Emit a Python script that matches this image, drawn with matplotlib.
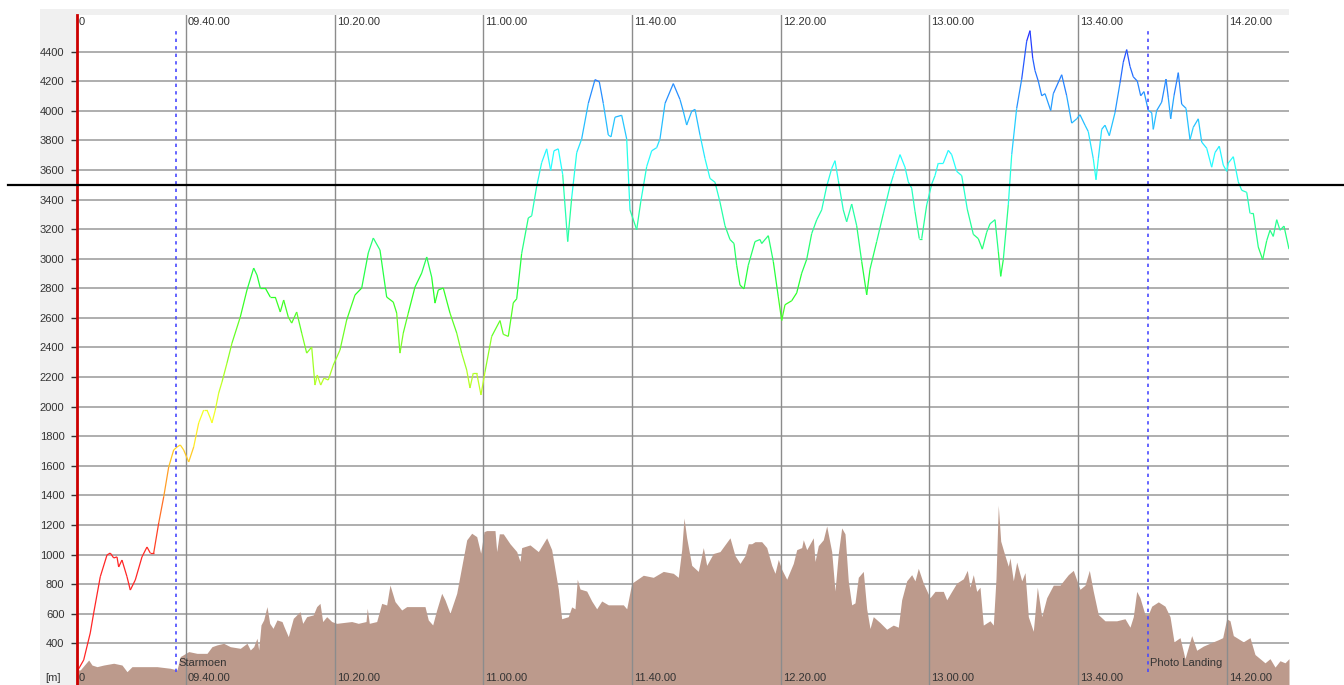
import numpy as np
import matplotlib
matplotlib.use("Agg")
import matplotlib.pyplot as plt
import matplotlib.transforms as mtransforms
from matplotlib.collections import LineCollection
from matplotlib.colors import hsv_to_rgb
from matplotlib.patches import Rectangle
from matplotlib.lines import Line2D

plt.rcParams['font.family'] = ['Liberation Sans', 'DejaVu Sans']

# times are minutes after 09:00, heights in metres
alt_t = [10.68, 12.48, 14.25, 15.17, 16.94, 18.75, 19.63, 20.55, 21.44, 21.89,
         22.78, 24.13, 25.02, 26.36, 28.16, 29.51, 30.40, 31.31, 32.66, 34.00,
         35.35, 36.69, 37.58, 38.47, 39.38, 40.73, 42.07, 43.42, 44.76, 45.65,
         46.54, 46.99, 47.88, 48.80, 49.69, 51.03, 52.38, 54.61, 56.41, 58.21,
         59.10, 59.99, 61.33, 62.68, 64.02, 65.37, 66.28,
         67.52, 68.44, 69.78, 71.13, 72.47, 73.82, 74.70, 75.32, 76.24, 77.13,
         78.28, 79.63, 81.43, 83.23, 85.47, 87.27, 89.04, 90.39, 92.19, 93.99,
         95.77, 96.68, 97.57, 98.46, 99.81, 101.61, 103.41, 104.76, 106.10, 106.99,
         107.88, 109.22, 111.02, 112.83, 114.17, 115.52, 116.40, 117.29, 118.21, 119.36,
         120.44, 122.24, 124.48, 125.36, 126.71, 128.05, 128.97, 130.31, 132.09, 133.00,
         134.35, 135.69, 137.04, 138.11, 139.00, 140.16, 141.34, 142.69, 143.76, 145.11,
         146.45, 148.23, 150.03, 151.19, 152.27, 153.61, 154.34, 155.41, 157.22, 158.56,
         159.45, 160.18, 161.25, 162.33, 163.94, 165.29, 166.63, 167.52, 168.87, 171.10,
         172.90,
         173.79, 174.70, 176.05, 176.94, 178.28, 179.63, 180.97, 182.32, 183.66, 185.01,
         186.35, 187.43, 188.15, 189.04, 190.12, 191.27, 193.08, 194.42, 194.88, 196.66,
         198.00, 199.35, 200.26, 201.15, 202.95, 204.30, 205.64, 206.99, 208.33, 209.68,
         211.02, 212.37, 213.71, 214.60, 215.49, 216.83, 217.74, 219.09, 220.44, 221.78,
         223.13, 224.02, 225.82, 227.59, 229.40,
         230.28, 232.09, 233.43, 234.32, 235.23, 236.12, 237.28, 237.93, 239.27, 240.62,
         241.50, 242.39, 243.74, 245.08, 245.99, 247.34, 248.69, 250.19, 251.81, 253.15,
         254.23, 255.41, 256.30, 257.65, 258.53, 259.18, 259.88, 261.22, 262.14, 263.48,
         264.83, 266.17, 267.06, 267.79, 268.41, 269.29, 270.21, 271.10, 272.63, 273.33,
         275.59, 276.93, 278.28, 279.62,
         280.51, 281.86, 282.74, 284.09, 284.82, 285.44, 286.35, 287.24, 288.40, 289.93,
         291.27, 292.16, 293.07, 293.96, 294.85, 295.93, 296.84, 297.73, 298.89, 299.80,
         300.23, 301.15, 302.49, 303.65, 304.27, 304.91, 305.80, 306.96, 307.87, 309.03,
         310.11, 310.99, 312.34, 313.25, 314.60, 315.94, 316.83, 317.99, 319.06, 319.98,
         320.41, 321.76, 323.10, 324.02, 325.36, 326.25, 327.14, 328.48, 329.66, 330.74,
         331.63, 332.51, 333.43, 334.32, 335.39, 336.74]
alt_m = [208, 287, 470, 605, 850, 997, 1010, 977, 984, 916,
         963, 850, 760, 828, 984, 1051, 1010, 1010, 1213, 1389,
         1592, 1707, 1727, 1741, 1707, 1626, 1727, 1890, 1977, 1977,
         1923, 1890, 1977, 2092, 2167, 2295, 2430, 2606, 2789, 2937,
         2890, 2802, 2802, 2741, 2741, 2640, 2721,
         2606, 2565, 2640, 2498, 2362, 2403, 2146, 2214, 2146, 2193,
         2180, 2281, 2383, 2586, 2755, 2802, 3039, 3140, 3059, 2741,
         2707, 2633, 2362, 2498, 2633, 2809, 2903, 3012, 2876, 2700,
         2789, 2802, 2633, 2498, 2362, 2248, 2126, 2227, 2227, 2079,
         2235, 2475, 2582, 2489, 2475, 2702, 2729, 3036, 3276, 3290,
         3490, 3650, 3743, 3597, 3730, 3743, 3570, 3116, 3410, 3717,
         3810, 4050, 4211, 4197, 4050, 3837, 3824, 3957, 3970, 3810,
         3330, 3276, 3196, 3383, 3623, 3730, 3751, 3810, 4050, 4184,
         4077,
         3997, 3904, 3997, 4010, 3837, 3677, 3543, 3517, 3383, 3223,
         3130, 3103, 2956, 2822, 2796, 2956, 3116, 3130, 3103, 3156,
         2982, 2742, 2582, 2689, 2716, 2769, 2902, 2996, 3170, 3263,
         3330, 3490, 3610, 3663, 3530, 3330, 3250, 3370, 3223, 2982,
         2756, 2929, 3116, 3303, 3490,
         3562, 3704, 3619, 3520, 3477, 3321, 3136, 3136, 3363, 3505,
         3562, 3647, 3647, 3733, 3704, 3591, 3562, 3335, 3165, 3136,
         3065, 3179, 3236, 3264, 3051, 2881, 2994, 3363, 3704, 4017,
         4215, 4471, 4542, 4357, 4272, 4201, 4102, 4116, 4002, 4116,
         4244, 4102, 3917, 3946,
         3974, 3903, 3860, 3676, 3534, 3676, 3875, 3903, 3832, 3988,
         4187, 4329, 4414, 4301, 4230, 4201, 4102, 4130, 4002, 3988,
         3875, 4002, 4059, 4215, 4088, 3946, 4102, 4258, 4045, 4017,
         3804, 3889, 3946, 3789, 3747, 3619, 3718, 3761, 3633, 3591,
         3647, 3690, 3520, 3463, 3449, 3307, 3307, 3079, 2994, 3122,
         3193, 3151, 3264, 3193, 3221, 3065]

gnd_t = [10.68, 11.56, 13.82, 14.71, 16.06, 17.86, 20.55, 22.78, 24.13, 25.47,
         28.62, 32.20, 35.78, 37.58, 38.47, 40.73, 42.96, 45.65, 46.99, 48.34,
         50.14, 51.92, 54.61, 56.41, 57.30, 58.21, 59.10, 59.56, 60.18, 60.90,
         61.79, 62.52, 63.41, 64.48, 65.83,
         66.36, 67.52, 68.87, 70.67, 71.40, 72.47, 74.25, 75.16, 76.05, 76.78,
         77.85, 79.20, 80.54, 84.58, 86.35, 88.43, 88.77, 89.31, 91.30, 92.65,
         93.99, 94.88, 96.23, 98.03, 99.37, 104.30, 105.18, 106.37, 107.44, 108.79,
         109.68, 111.02, 112.83, 114.17, 115.52, 116.86, 118.21, 119.28, 120.17,
         120.90, 123.13, 123.59, 124.29, 125.36, 127.17, 128.97, 129.86, 130.31, 132.55,
         134.78, 137.04, 138.38, 139.27, 140.16, 141.07, 142.85, 143.76, 144.65, 145.27,
         146.00, 147.80, 149.15, 150.49, 151.84, 153.61, 157.65, 158.56, 159.91, 163.03,
         165.72, 168.41, 171.10, 172.44, 173.36, 173.98, 174.70,
         176.05, 177.82, 179.17, 180.08, 181.86, 183.66, 186.35, 187.70, 189.04, 190.39,
         191.27, 192.19, 193.08, 194.88, 196.23, 197.57, 198.46, 199.35, 200.26, 201.61,
         203.38, 204.30, 205.64, 206.07, 206.99, 208.76, 209.22, 210.11, 211.45, 212.37,
         213.71, 214.60, 215.49, 216.40, 217.29, 218.18, 219.09, 219.98, 220.87, 222.21,
         223.13, 224.02, 224.90, 226.71,
         228.50, 230.28, 231.63, 232.54, 233.89, 235.23, 236.12, 237.01, 238.35, 240.16,
         241.50, 243.74, 244.65, 245.99, 247.34, 249.12, 250.19, 250.92, 251.81, 252.72,
         253.61, 254.50, 256.30, 257.19, 257.91, 258.53, 259.18, 260.34, 261.22, 261.68,
         262.57, 263.48, 264.83, 265.72, 266.61, 267.95, 269.03, 270.21, 271.55, 273.33,
         275.13, 276.48, 277.37, 278.71, 280.51,
         281.86, 283.02, 284.09, 285.44, 287.24, 290.38, 292.62, 293.96, 294.85, 295.77,
         296.65, 298.00, 298.89, 299.80, 301.58, 303.38, 304.73, 305.80, 307.42, 308.76,
         310.56, 311.91, 313.68, 316.37, 317.72, 318.90, 319.98, 320.87, 321.76, 324.45,
         326.25, 327.59, 328.94, 330.28, 331.63, 332.98, 334.32, 335.66, 336.74]
gnd_m = [220, 220, 287, 253, 242, 253, 265, 253, 208, 242,
         242, 242, 231, 220, 310, 344, 332, 332, 377, 389,
         400, 377, 366, 400, 355, 377, 434, 355, 524, 558,
         648, 535, 501, 558, 547,
         513, 445, 569, 614, 535, 580, 592, 648, 670, 547,
         580, 547, 535, 547, 535, 547, 637, 535, 547, 670,
         659, 794, 682, 625, 648, 648, 558, 524, 625, 738,
         693, 603, 738, 918, 1099, 1144, 1121, 1009, 1155,
         1162, 1162, 1020, 1140, 1140, 1073, 1020, 953, 1047, 1065,
         1020, 1113, 1033, 900, 767, 566, 580, 646, 633, 833,
         767, 753, 686, 633, 686, 660, 660, 633, 806, 860,
         846, 886, 873, 846, 1033, 1247, 1113,
         927, 886, 1047, 927, 1007, 1020, 1113, 993, 940, 993,
         1073, 1073, 1087, 1087, 1047, 927, 873, 967, 900, 833,
         940, 1033, 1047, 1100, 1033, 1113, 953, 1060, 1100, 1193,
         1020, 753, 1007, 1180, 1140, 820, 660, 673, 846, 886,
         633, 500, 580, 540,
         495, 523, 509, 694, 822, 864, 822, 907, 807, 708,
         751, 751, 694, 751, 807, 836, 893, 779, 864, 751,
         779, 523, 552, 523, 836, 1333, 1091, 992, 921, 978,
         822, 949, 822, 878, 580, 481, 779, 580, 708, 793,
         793, 836, 864, 893, 765,
         793, 893, 751, 594, 552, 552, 566, 509, 580, 751,
         708, 594, 594, 651, 680, 651, 580, 410, 438, 296,
         452, 353, 381, 410, 424, 438, 566, 552, 452, 410,
         438, 324, 296, 268, 296, 239, 282, 268, 296]

tick_t = [40, 80, 120, 160, 200, 240, 280, 320]
tick_lbl = ["09.40.00", "10.20.00", "11.00.00", "11.40.00",
            "12.20.00", "13.00.00", "13.40.00", "14.20.00"]
y_ticks = list(range(400, 4401, 200))

mark_t = [37.31, 298.8]
mark_lbl = ["Starmoen", "Photo Landing"]
ceiling = 3500

W, H = 1344, 685
fig = plt.figure(figsize=(W / 100, H / 100), dpi=100)
fig.add_artist(Rectangle((40 / W, 0), (1289 - 40) / W, (H - 9) / H,
                         transform=fig.transFigure, facecolor='#f0f0f0',
                         edgecolor='none', zorder=-5))
ax = fig.add_axes([77 / W, 0, (1289 - 77) / W, (H - 15) / H])
ax.set_facecolor('white')
x0, x1 = 10.68, 336.74
ax.set_xlim(x0, x1)
ax.set_ylim(118, 4648)

for s in ['top', 'right', 'bottom']:
    ax.spines[s].set_visible(False)
ax.spines['left'].set_color('#cc0000')
ax.spines['left'].set_linewidth(2)
ax.spines['left'].set_zorder(8)

ax.set_xticks([])
ax.set_yticks(y_ticks)
ax.tick_params(axis='y', length=4, width=1, color='#333333', pad=5,
               labelsize=8, labelcolor='#333333')

for y in y_ticks:
    ax.axhline(y, color='#a8a8a8', lw=1.3, zorder=1)

ax.fill_between(gnd_t, gnd_m, 0, color='#bc9a8c', lw=0, zorder=2)

for t in tick_t:
    ax.axvline(t, color='#8c8c8c', lw=1.0, zorder=3)

# labels on the time axis sit inside the plot, top and bottom
tr = mtransforms.blended_transform_factory(ax.transData, ax.transAxes)
tr = mtransforms.offset_copy(tr, fig=fig, x=2, y=0, units='dots')
for t, lbl in zip([x0] + tick_t, ["0"] + tick_lbl):
    ax.text(t, 0.9896, lbl, transform=tr, ha='left', va='center',
            fontsize=8, color='#333333', zorder=6)
    ax.text(t, 0.0104, lbl, transform=tr, ha='left', va='center',
            fontsize=8, color='#333333', zorder=6)

# altitude trace coloured by height
t = np.array(alt_t)
a = np.array(alt_m)
pts = np.column_stack([t, a]).reshape(-1, 1, 2)
segs = np.concatenate([pts[:-1], pts[1:]], axis=1)
mid = (a[:-1] + a[1:]) / 2
hue = np.clip((mid - 1000) / 3550, 0, 1) * (240 / 360)
cols = hsv_to_rgb(np.column_stack([hue, np.full_like(hue, 0.85), np.ones_like(hue)]))
ax.add_collection(LineCollection(segs, colors=cols, linewidths=0.9, zorder=5))

# waypoints
trm = mtransforms.offset_copy(ax.transData, fig=fig, x=2, y=0, units='dots')
for mt, ml in zip(mark_t, mark_lbl):
    ax.plot([mt, mt], [206, 4554], color='#4a4aff', lw=1.2,
            ls=(0, (2, 2.5)), zorder=6)
    ax.text(mt, 267, ml, transform=trm, ha='left', va='center',
            fontsize=8, color='#333333', zorder=7)

# ceiling line runs across the whole figure
trc = mtransforms.blended_transform_factory(fig.transFigure, ax.transData)
fig.add_artist(Line2D([8 / W, 1], [ceiling, ceiling], transform=trc,
                      color='black', lw=1.6, zorder=10))

fig.text(61 / W, 1 - 678 / H, "[m]", ha='right', va='center',
         fontsize=8, color='#333333')

fig.savefig('out.png', dpi=100)
